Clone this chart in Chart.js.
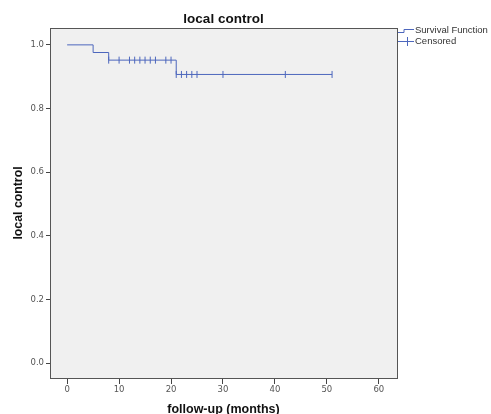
<!DOCTYPE html>
<html>
<head>
<meta charset="utf-8">
<script src="https://cdn.jsdelivr.net/npm/chart.js@4"></script>
<style>
    html, body { margin: 0; padding: 0; background: #fff; }
    #wrap { width: 491px; height: 414px; position: relative; }
</style>
</head>
<body>
<div id="wrap"><canvas id="chartKM"></canvas></div>
<script>
// survival curve (step points) and censored cases
const survTimes = [0, 5, 8, 21, 51];
const survValues = [1.0, 0.976, 0.952, 0.907, 0.907];
const censorTimes = [8, 10, 12, 13, 14, 15, 16, 17, 19, 20, 21, 22, 23, 24, 25, 30, 42, 51];
const censorValues = [0.952, 0.952, 0.952, 0.952, 0.952, 0.952, 0.952, 0.952, 0.952, 0.952,
                      0.907, 0.907, 0.907, 0.907, 0.907, 0.907, 0.907, 0.907];
const xTicks = [0, 10, 20, 30, 40, 50, 60];
const yTicks = [0, 0.2, 0.4, 0.6, 0.8, 1.0];
const legendLabels = ['Survival Function', 'Censored'];
const chartTitle = 'local control';

const azul = '#4d67bd';
const cinza = '#555';

const fundoPlugin = {
    id: 'fundo',
    beforeDatasetsDraw(chart) {
        const a = chart.chartArea;
        const ctx = chart.ctx;
        ctx.save();
        ctx.fillStyle = '#f0f0f0';
        ctx.fillRect(a.left, a.top, a.right - a.left, a.bottom - a.top);
        ctx.restore();
    },
    afterDraw(chart) {
        const a = chart.chartArea;
        const ctx = chart.ctx;
        ctx.save();
        ctx.strokeStyle = '#555';
        ctx.lineWidth = 1;
        ctx.strokeRect(a.left + 0.5, a.top + 0.5, a.right - a.left, a.bottom - a.top);

        // titulo
        ctx.fillStyle = '#111';
        ctx.font = 'bold 13.5px "Liberation Sans", Arial, sans-serif';
        ctx.textAlign = 'center';
        ctx.textBaseline = 'alphabetic';
        ctx.fillText(chartTitle, (a.left + a.right) / 2, 22.5);

        // legenda
        let x = a.right + 1;
        ctx.strokeStyle = azul;
        ctx.lineWidth = 1;
        ctx.beginPath();
        ctx.moveTo(x, 32.5);
        ctx.lineTo(x + 6, 32.5);
        ctx.lineTo(x + 6, 29.5);
        ctx.lineTo(x + 16, 29.5);
        ctx.stroke();
        ctx.beginPath();
        ctx.moveTo(x, 41.5);
        ctx.lineTo(x + 16, 41.5);
        ctx.moveTo(x + 9.5, 37);
        ctx.lineTo(x + 9.5, 46);
        ctx.stroke();

        ctx.fillStyle = '#333';
        ctx.font = '9.5px "Liberation Sans", Arial, sans-serif';
        ctx.textAlign = 'left';
        ctx.textBaseline = 'middle';
        ctx.fillText(legendLabels[0], x + 17, 30.5);
        ctx.fillText(legendLabels[1], x + 17, 41.5);
        ctx.restore();
    }
};

new Chart(document.getElementById('chartKM'), {
    type: 'scatter',
    data: {
        datasets: [
            {
                label: legendLabels[0],
                type: 'line',
                data: survTimes.map((t, i) => ({ x: t, y: survValues[i] })),
                borderColor: azul,
                borderWidth: 1,
                stepped: 'before',
                pointRadius: 0,
                fill: false,
            },
            {
                label: legendLabels[1],
                data: censorTimes.map((t, i) => ({ x: t, y: censorValues[i] })),
                pointStyle: 'line',
                rotation: 90,
                pointRadius: 3.5,
                borderColor: azul,
                backgroundColor: azul,
                borderWidth: 1,
            }
        ]
    },
    options: {
        responsive: true,
        maintainAspectRatio: false,
        animation: false,
        layout: { padding: { left: 0, right: 94, top: 28, bottom: 0 } },
        plugins: {
            legend: { display: false },
            tooltip: { enabled: false },
            title: { display: false }
        },
        scales: {
            x: {
                type: 'linear',
                min: -3.3,
                max: 63.5,
                afterBuildTicks: axis => { axis.ticks = xTicks.map(v => ({ value: v })); },
                afterFit: axis => { axis.height = 36; },
                ticks: {
                    color: cinza,
                    padding: 1,
                    maxRotation: 0,
                    font: { family: '"DejaVu Sans", sans-serif', size: 8.5 },
                },
                grid: { drawOnChartArea: false, drawTicks: true, tickLength: 6, tickColor: '#444' },
                border: { display: false },
                title: {
                    display: true,
                    text: 'follow-up (months)',
                    color: '#111',
                    font: { family: '"Liberation Sans", Arial, sans-serif', size: 12.5, weight: 'bold', lineHeight: 1 },
                    padding: { top: 0, bottom: -2 }
                }
            },
            y: {
                min: -0.047,
                max: 1.053,
                afterBuildTicks: axis => { axis.ticks = yTicks.map(v => ({ value: v })); },
                afterFit: axis => { axis.width = 50; },
                ticks: {
                    color: cinza,
                    padding: 2,
                    callback: v => v.toFixed(1),
                    font: { family: '"DejaVu Sans", sans-serif', size: 8.5 },
                },
                grid: { drawOnChartArea: false, drawTicks: true, tickLength: 4, tickColor: '#444' },
                border: { display: false },
                title: {
                    display: true,
                    text: 'local control',
                    color: '#111',
                    font: { family: '"Liberation Sans", Arial, sans-serif', size: 12.3, weight: 'bold', lineHeight: 1.2 },
                    padding: { top: 11, bottom: 0 }
                }
            }
        }
    },
    plugins: [fundoPlugin]
});
</script>
</body>
</html>
